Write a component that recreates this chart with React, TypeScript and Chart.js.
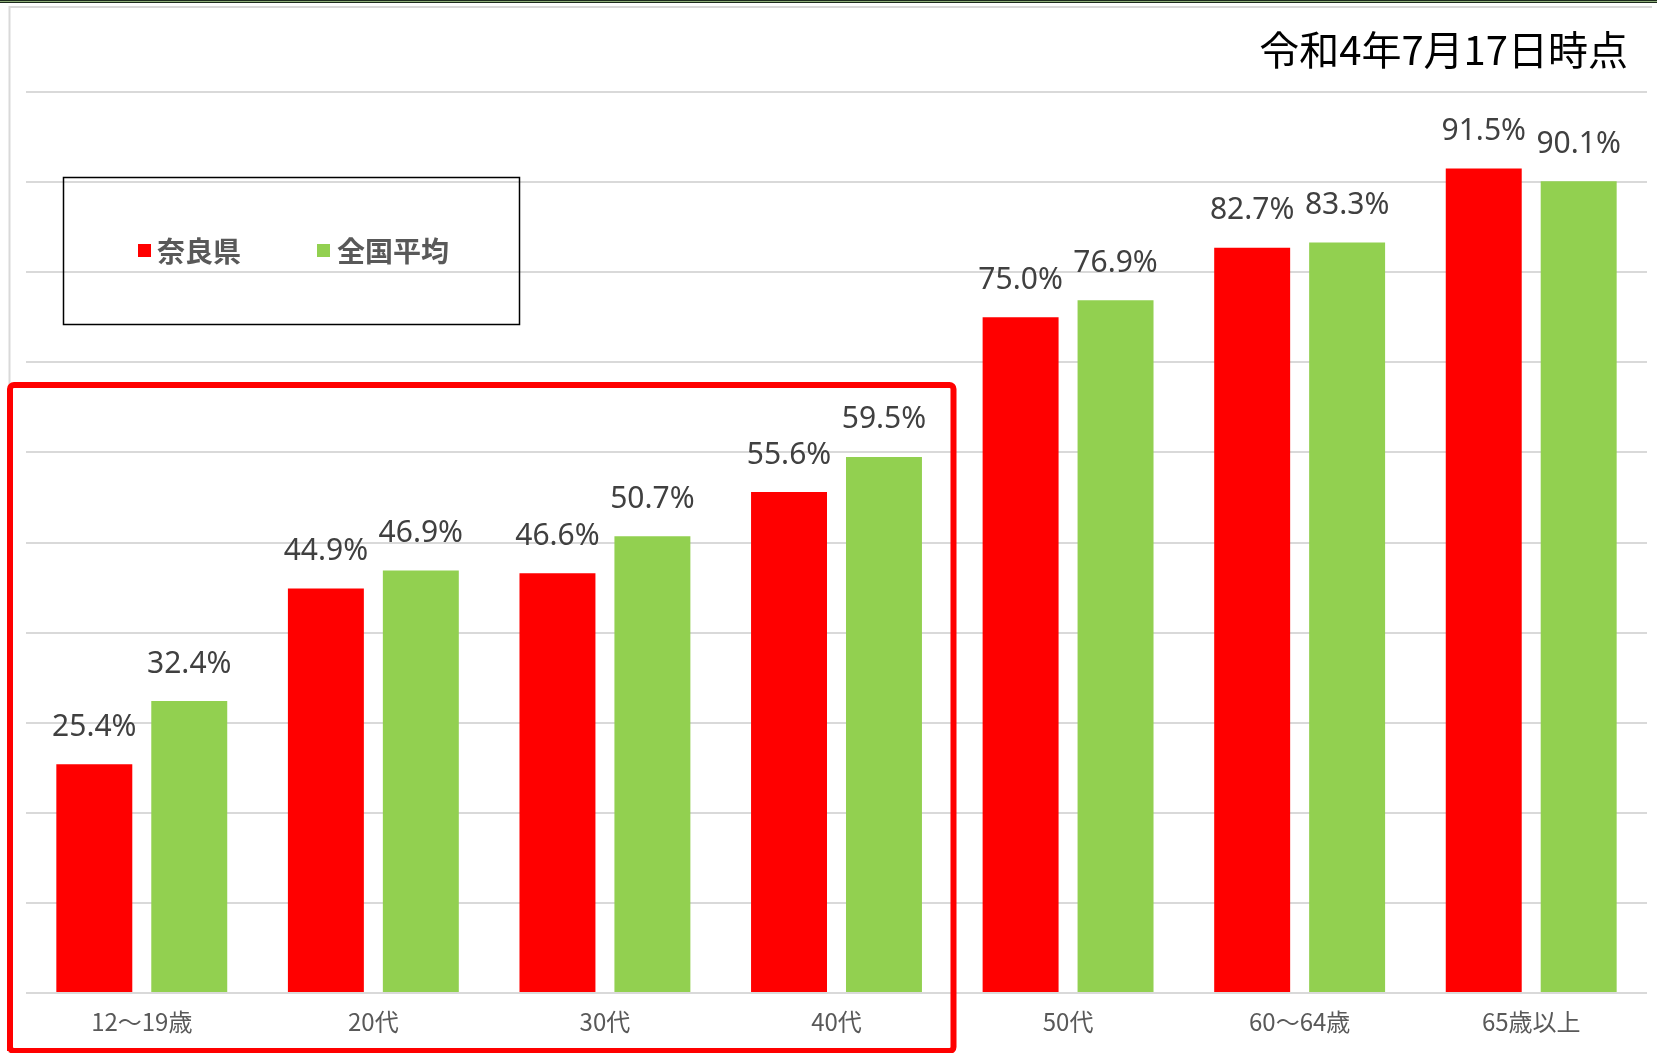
import React, { useEffect, useRef } from "react";
import { Chart, registerables } from "chart.js";

Chart.register(...registerables);

const categories = ["12～19歳", "20代", "30代", "40代", "50代", "60～64歳", "65歳以上"];
const naraValues = [25.4, 44.9, 46.6, 55.6, 75.0, 82.7, 91.5];
const nationalValues = [32.4, 46.9, 50.7, 59.5, 76.9, 83.3, 90.1];
const seriesNames = ["奈良県", "全国平均"];
const seriesColors = ["#FF0000", "#92D050"];
const titleText = "令和4年7月17日時点";

const W = 1657;
const H = 1053;

const framePlugin = {
  id: "frame",
  beforeDraw(chart: any) {
    const ctx = chart.ctx;
    ctx.save();
    ctx.fillStyle = "#ffffff";
    ctx.fillRect(0, 0, W, H);
    // top dark border
    ctx.fillStyle = "#1b2a1b";
    ctx.fillRect(0, 0, W, 3);
    ctx.fillStyle = "#8fae7a";
    ctx.fillRect(0, 1, W, 1);
    // light gray chart frame
    ctx.strokeStyle = "#d9d9d9";
    ctx.lineWidth = 2;
    ctx.beginPath();
    ctx.moveTo(9.5, H);
    ctx.lineTo(9.5, 7);
    ctx.lineTo(1652, 7);
    ctx.stroke();
    ctx.restore();
  },
  afterDraw(chart: any) {
    const ctx = chart.ctx;
    ctx.save();
    // title
    ctx.font = '40px "Noto Sans CJK JP"';
    ctx.fillStyle = "#000000";
    ctx.textAlign = "right";
    ctx.textBaseline = "middle";
    ctx.fillText(titleText, 1628, 50);
    // legend box
    ctx.strokeStyle = "#000000";
    ctx.lineWidth = 1.5;
    ctx.strokeRect(63.5, 177.5, 456, 147);
    const items = [
      { x: 138, tx: 157 },
      { x: 317, tx: 337 },
    ];
    ctx.font = 'bold 28px "Noto Sans CJK JP"';
    ctx.textAlign = "left";
    ctx.textBaseline = "middle";
    items.forEach((it, i) => {
      ctx.fillStyle = seriesColors[i];
      ctx.fillRect(it.x, 244, 13, 13);
      ctx.fillStyle = "#595959";
      ctx.fillText(seriesNames[i], it.tx, 251);
    });
    // red highlight rectangle
    ctx.strokeStyle = "#FF0000";
    ctx.lineWidth = 6;
    ctx.beginPath();
    const l = 10, t = 385, r = 953.5, b = 1051, rad = 4;
    ctx.moveTo(l, b);
    ctx.lineTo(l, t + rad);
    ctx.arcTo(l, t, l + rad, t, rad);
    ctx.lineTo(r - rad, t);
    ctx.arcTo(r, t, r, t + rad, rad);
    ctx.lineTo(r, b - rad);
    ctx.arcTo(r, b, r - rad, b, rad);
    ctx.lineTo(l + rad, b);
    ctx.arcTo(l, b, l, b - rad, rad);
    ctx.closePath();
    ctx.stroke();
    ctx.restore();
  },
  afterDatasetsDraw(chart: any) {
    const ctx = chart.ctx;
    ctx.save();
    ctx.font = '30px "Noto Sans"';
    ctx.fillStyle = "#404040";
    ctx.textAlign = "center";
    ctx.textBaseline = "middle";
    chart.data.datasets.forEach((ds: any, di: number) => {
      const meta = chart.getDatasetMeta(di);
      meta.data.forEach((bar: any, i: number) => {
        const v = ds.data[i] as number;
        ctx.fillText(v.toFixed(1) + "%", bar.x, bar.y - 37);
      });
    });
    ctx.restore();
  },
};

export default function App() {
  const ref = useRef<HTMLCanvasElement | null>(null);
  useEffect(() => {
    if (!ref.current) return;
    const chart = new Chart(ref.current, {
      type: "bar",
      data: {
        labels: categories,
        datasets: [
          {
            label: seriesNames[0],
            data: naraValues,
            backgroundColor: seriesColors[0],
            categoryPercentage: 0.82,
            barPercentage: 0.8,
          },
          {
            label: seriesNames[1],
            data: nationalValues,
            backgroundColor: seriesColors[1],
            categoryPercentage: 0.82,
            barPercentage: 0.8,
          },
        ],
      },
      options: {
        animation: false,
        responsive: false,
        devicePixelRatio: 1,
        layout: { padding: { left: 26, right: 10, top: 92, bottom: 0 } },
        plugins: {
          legend: { display: false },
          tooltip: { enabled: false },
          title: { display: false },
        },
        scales: {
          x: {
            grid: { display: false, drawTicks: false },
            border: { display: false },
            ticks: {
              color: "#595959",
              font: { family: '"Noto Sans CJK JP"', size: 24 },
              padding: 14,
              maxRotation: 0,
            },
            afterFit: (scale: any) => {
              scale.height = 60;
            },
          },
          y: {
            min: 0,
            max: 100,
            ticks: { display: false, stepSize: 10 },
            grid: { color: "#d9d9d9", lineWidth: 2, drawTicks: false },
            border: { display: false },
            afterFit: (scale: any) => {
              scale.width = 0;
            },
          },
        },
      },
      plugins: [framePlugin],
    });
    return () => chart.destroy();
  }, []);
  return (
    <div style={{ position: "absolute", left: 0, top: 0, width: W, height: H }}>
      <canvas ref={ref} width={W} height={H} style={{ display: "block" }} />
    </div>
  );
}
